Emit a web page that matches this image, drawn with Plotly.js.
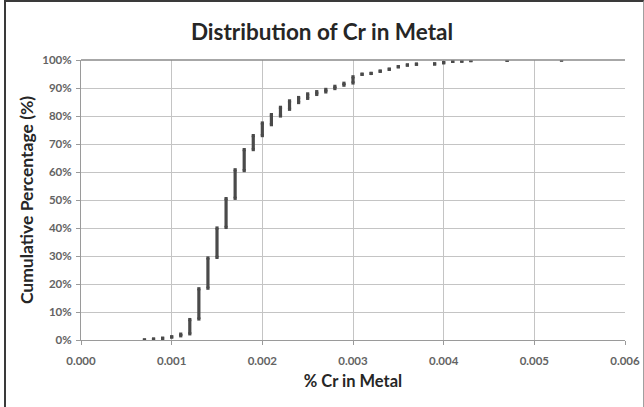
<!DOCTYPE html>
<html><head><meta charset="utf-8">
<script src="https://cdn.plot.ly/plotly-3.0.1.min.js"></script>
<style>
html,body{margin:0;padding:0;background:#fff;overflow:hidden;width:644px;height:407px;}
#frame{position:absolute;left:4px;top:0px;width:637px;height:500px;border-top:2px solid #3a3a3a;border-left:2px solid #3a3a3a;border-right:1px solid #a0a0a0;pointer-events:none;z-index:10;}
#chart{width:644px;height:407px;}
</style></head>
<body>
<div id="chart"></div>
<div id="frame"></div>
<script>
// Distinct Cr levels (% Cr) and the cumulative percentage range covered at each level
const crLevels = [0.0007,0.0008,0.0009,0.0010,0.0011,0.0012,0.0013,0.0014,0.0015,0.0016,0.0017,0.0018,0.0019,0.0020,0.0021,0.0022,0.0023,0.0024,0.0025,0.0026,0.0027,0.0028,0.0029,0.0030,0.0031,0.0032,0.0033,0.0034,0.0035,0.0036,0.0037,0.0039,0.0040,0.0041,0.0042,0.0043,0.0047,0.0053];
const cumLow   = [0.0,0.3,0.6,1.1,1.5,2.2,7.5,18.5,29.5,40.2,50.6,60.5,68.0,73.0,76.9,80.0,82.4,84.8,86.3,87.7,88.6,89.8,91.0,91.8,94.9,95.2,96.0,96.7,97.6,98.2,98.5,98.6,99.0,99.5,99.6,99.8,99.9,100.0];
const cumHigh  = [0.0,0.3,0.6,1.1,2.1,7.3,18.3,29.3,40.0,50.5,60.8,68.0,73.0,77.5,80.5,83.1,85.4,86.6,87.9,88.7,89.5,90.6,91.7,94.0,94.9,95.2,96.0,96.7,97.6,98.2,98.5,98.6,99.1,99.5,99.6,99.8,99.9,100.0];
const xTicks = [0,0.001,0.002,0.003,0.004,0.005,0.006];
const xTickText = ['0.000','0.001','0.002','0.003','0.004','0.005','0.006'];
const yTicks = [0,10,20,30,40,50,60,70,80,90,100];
const yTickText = yTicks.map(v => v + '%');

// build vertical segments (one per level) from the arrays
const segX = [], segY = [];
crLevels.forEach((x, i) => { segX.push(x, x, null); segY.push(cumLow[i], cumHigh[i], null); });
const markColor = '#4a4a4a';

const traces = [
  {type:'scatter', mode:'lines', x:segX, y:segY, line:{color:markColor, width:3.2}, hoverinfo:'skip', showlegend:false},
  {type:'scatter', mode:'markers', x:crLevels.concat(crLevels), y:cumLow.concat(cumHigh),
   marker:{symbol:'square', size:3.2, color:markColor, line:{width:0}}, showlegend:false}
];

const fam = 'Lato, Open Sans, sans-serif';
const axisFont = {family:fam, size:11.5, color:'#636363', weight:'bold'};
const layout = {
  width:644, height:407,
  margin:{l:81, r:19, t:60, b:67},
  paper_bgcolor:'#ffffff', plot_bgcolor:'#ffffff',
  title:{text:'Distribution of Cr in Metal', x:0.5, xanchor:'center', y:0.922, yanchor:'middle', yref:'container',
         font:{family:fam, size:22.5, color:'#262626', weight:'bold'}},
  xaxis:{range:[0,0.006], tickvals:xTicks, ticktext:xTickText, tickfont:axisFont, ticklabelstandoff:6,
         showgrid:true, gridcolor:'#c4c4c4', gridwidth:1, zeroline:false,
         showline:true, linecolor:'#9a9a9a', linewidth:1, ticks:'outside', ticklen:4, tickcolor:'#9a9a9a',
         title:{text:'% Cr in Metal', standoff:9, font:{family:fam, size:16.5, color:'#262626', weight:'bold'}}},
  yaxis:{range:[0,100], tickvals:yTicks, ticktext:yTickText, tickfont:axisFont, ticklabelstandoff:2,
         showgrid:true, gridcolor:'#c4c4c4', gridwidth:1, zeroline:false,
         showline:true, linecolor:'#9a9a9a', linewidth:1, ticks:'outside', ticklen:4, tickcolor:'#9a9a9a',
         title:{text:'Cumulative Percentage (%)', standoff:4, font:{family:fam, size:17.5, color:'#262626', weight:'bold'}}},
  shapes:[{type:'line', xref:'paper', yref:'paper', x0:0, x1:1, y0:1, y1:1, line:{color:'#8a8a8a', width:1.5}}]
};
Plotly.newPlot('chart', traces, layout, {displayModeBar:false, staticPlot:true});
</script>
</body></html>
